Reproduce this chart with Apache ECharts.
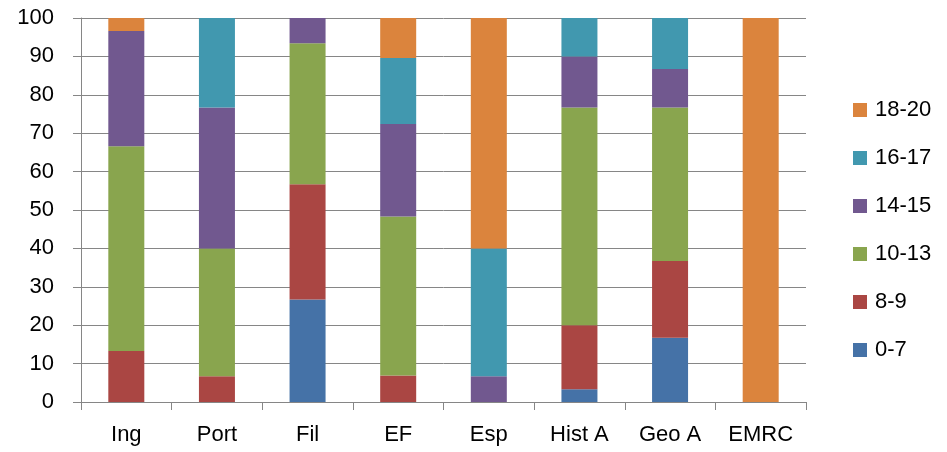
<!DOCTYPE html>
<html><head><meta charset="utf-8">
<script src="https://cdn.jsdelivr.net/npm/echarts@6/dist/echarts.min.js"></script>
<style>html,body{margin:0;padding:0;background:#fff}#c{width:947px;height:452px}</style>
</head><body><div id="c"></div>
<script>
const categories = ['Ing','Port','Fil','EF','Esp','Hist A','Geo A','EMRC'];
const s0_7   = [0, 0, 26.7, 0, 0, 3.3, 16.7, 0];
const s8_9   = [13.3, 6.7, 30, 6.9, 0, 16.7, 20, 0];
const s10_13 = [53.3, 33.3, 36.7, 41.4, 0, 56.7, 40, 0];
const s14_15 = [30, 36.7, 6.7, 24.1, 6.7, 13.3, 10, 0];
const s16_17 = [0, 23.3, 0, 17.2, 33.3, 10, 13.3, 0];
const s18_20 = [3.4, 0, 0, 10.4, 60, 0, 0, 100];
const seriesNames = ['0-7','8-9','10-13','14-15','16-17','18-20'];
const colors = ['#4572A7','#AA4643','#89A54E','#71588F','#4198AF','#DB843D'];
const yTicks = [0,10,20,30,40,50,60,70,80,90,100];

const font = '"Liberation Sans", Arial, sans-serif';
const dataSets = [s0_7, s8_9, s10_13, s14_15, s16_17, s18_20];
const chart = echarts.init(document.getElementById('c'), null, {renderer:'canvas'});
chart.setOption({
  animation: false,
  color: colors,
  grid: {left: 81, right: 141, top: 18, bottom: 50, containLabel: false},
  legend: {
    orient: 'vertical', left: 848, top: 94,
    data: seriesNames.slice().reverse(),
    itemWidth: 14, itemHeight: 14, itemGap: 26,
    icon: 'rect',
    textStyle: {fontFamily: font, fontSize: 22, lineHeight: 22, color: '#000', padding: [0,0,0,3]}
  },
  xAxis: {
    type: 'category', data: categories,
    axisLine: {lineStyle: {color: '#868686', width: 1}},
    axisTick: {show: true, length: 8, alignWithLabel: false, lineStyle: {color: '#868686'}},
    axisLabel: {fontFamily: font, fontSize: 22, color: '#000', margin: 22}
  },
  yAxis: {
    type: 'value', min: yTicks[0], max: yTicks[yTicks.length-1], interval: 10,
    axisLine: {show: true, lineStyle: {color: '#868686', width: 1}},
    axisTick: {show: true, length: 8, lineStyle: {color: '#868686'}},
    splitLine: {lineStyle: {color: '#868686', width: 1}},
    axisLabel: {fontFamily: font, fontSize: 22, color: '#000', margin: 27}
  },
  series: seriesNames.map((n, i) => ({
    name: n, type: 'bar', stack: 'total', barWidth: 36,
    data: dataSets[i],
    itemStyle: {color: colors[i]}
  }))
});
</script></body></html>
